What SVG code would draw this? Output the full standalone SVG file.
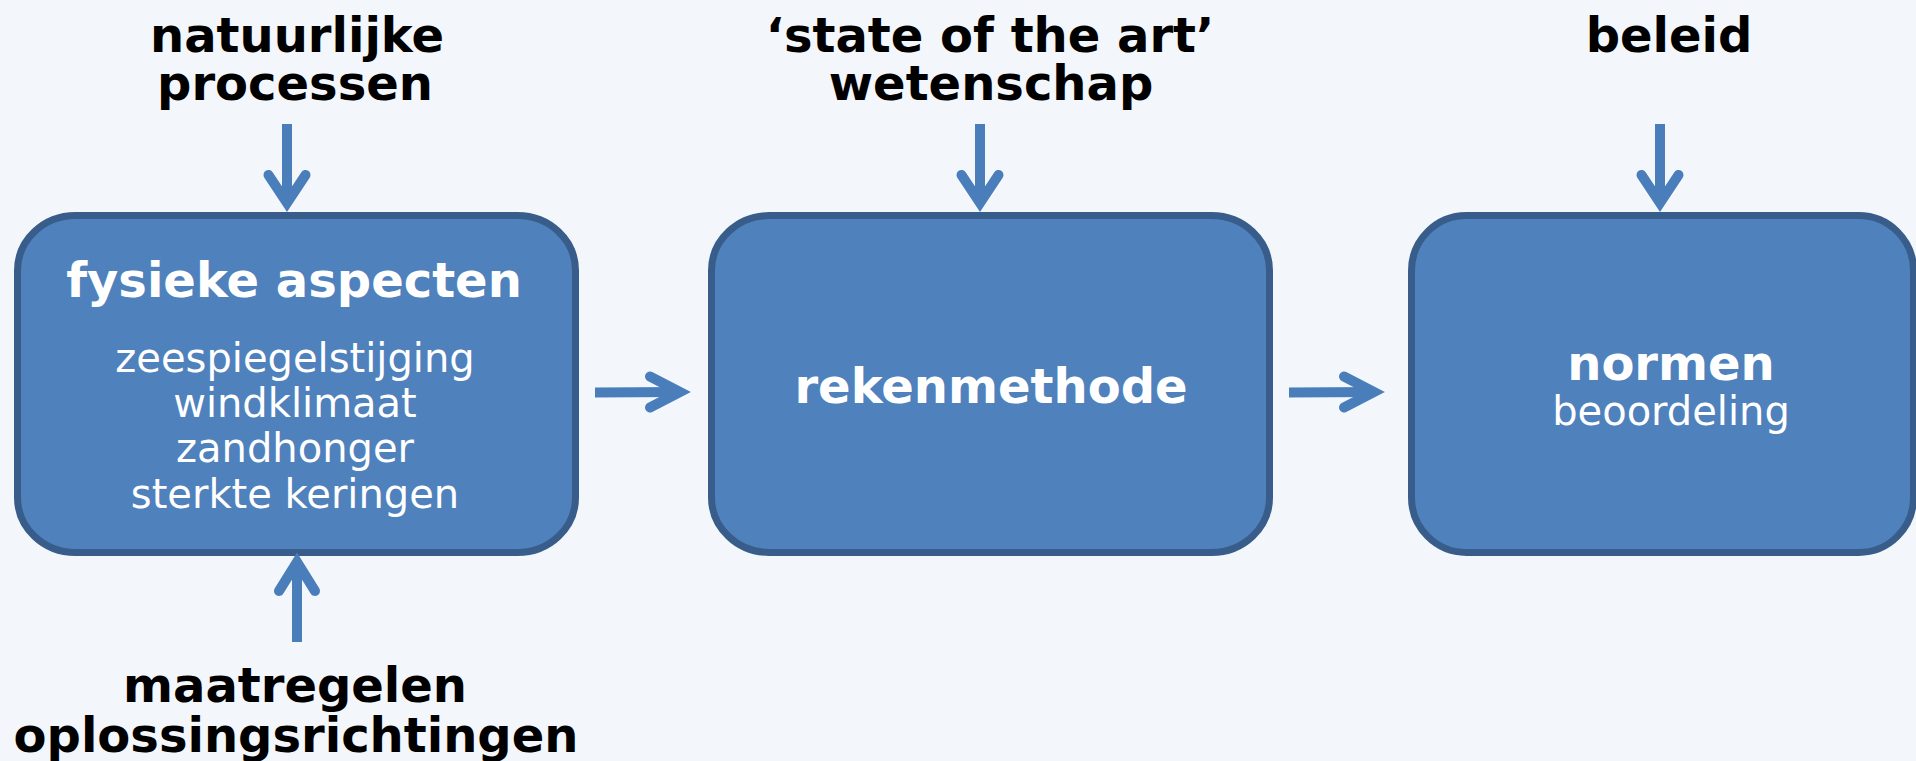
<svg xmlns="http://www.w3.org/2000/svg" width="1916" height="761" viewBox="0 0 1916 761">
<style>
.bg{fill:#F3F6FB}
.box{fill:#4F81BD;stroke:#385D8A;stroke-width:7}
.lbl{font-family:"DejaVu Sans",Verdana,sans-serif;font-weight:bold;font-size:48px;fill:#000;text-anchor:middle}
.ttl{font-family:"DejaVu Sans",Verdana,sans-serif;font-weight:bold;font-size:48px;fill:#fff;text-anchor:middle}
.sub{font-family:"DejaVu Sans",Verdana,sans-serif;font-size:40px;fill:#fff;text-anchor:middle}
.shaft{stroke:#4A7EBB;stroke-width:10;fill:none}
.head{stroke:#4A7EBB;stroke-width:10;fill:none;stroke-linecap:round;stroke-linejoin:miter;stroke-miterlimit:10}
</style>
<rect class="bg" x="0" y="0" width="1916" height="761"/>
<g id="label-natuurlijke">
<text class="lbl" x="297" y="52">natuurlijke</text>
<text class="lbl" x="295" y="100">processen</text>
</g>
<g id="label-state">
<text class="lbl" x="990" y="52">‘state of the art’</text>
<text class="lbl" x="991" y="100">wetenschap</text>
</g>
<g id="label-beleid">
<text class="lbl" x="1669" y="52">beleid</text>
</g>
<g id="label-maatregelen">
<text class="lbl" x="295" y="702">maatregelen</text>
<text class="lbl" x="296" y="752">oplossingsrichtingen</text>
</g>
<g id="node-fysieke">
<rect class="box" x="17.5" y="215.5" width="558" height="337" rx="58" ry="55"/>
<text class="ttl" x="294" y="297">fysieke aspecten</text>
<text class="sub" x="295" y="372">zeespiegelstijging</text>
<text class="sub" x="295" y="417">windklimaat</text>
<text class="sub" x="295" y="462">zandhonger</text>
<text class="sub" x="295" y="508">sterkte keringen</text>
</g>
<g id="node-rekenmethode">
<rect class="box" x="711.5" y="215.5" width="558" height="337" rx="58" ry="55"/>
<text class="ttl" x="991" y="403">rekenmethode</text>
</g>
<g id="node-normen">
<rect class="box" x="1411.5" y="215.5" width="502" height="337" rx="55" ry="55"/>
<text class="ttl" x="1671" y="380">normen</text>
<text class="sub" x="1671" y="425">beoordeling</text>
</g>
<g id="connectors">
<line class="shaft" x1="287" y1="124" x2="287" y2="203"/>
<polyline class="head" points="268.5,175 287,203 305.5,175"/>
<line class="shaft" x1="980" y1="124" x2="980" y2="203"/>
<polyline class="head" points="961.5,175 980,203 998.5,175"/>
<line class="shaft" x1="1660" y1="124" x2="1660" y2="203"/>
<polyline class="head" points="1641.5,175 1660,203 1678.5,175"/>
<line class="shaft" x1="297" y1="642" x2="297" y2="562"/>
<polyline class="head" points="279,591 297,562 315,591"/>
<line class="shaft" x1="595" y1="392.5" x2="680" y2="392"/>
<polyline class="head" points="650,376.5 680,392 650,407.5"/>
<line class="shaft" x1="1289" y1="392.5" x2="1374" y2="392"/>
<polyline class="head" points="1344,376.5 1374,392 1344,407.5"/>
</g>
</svg>
